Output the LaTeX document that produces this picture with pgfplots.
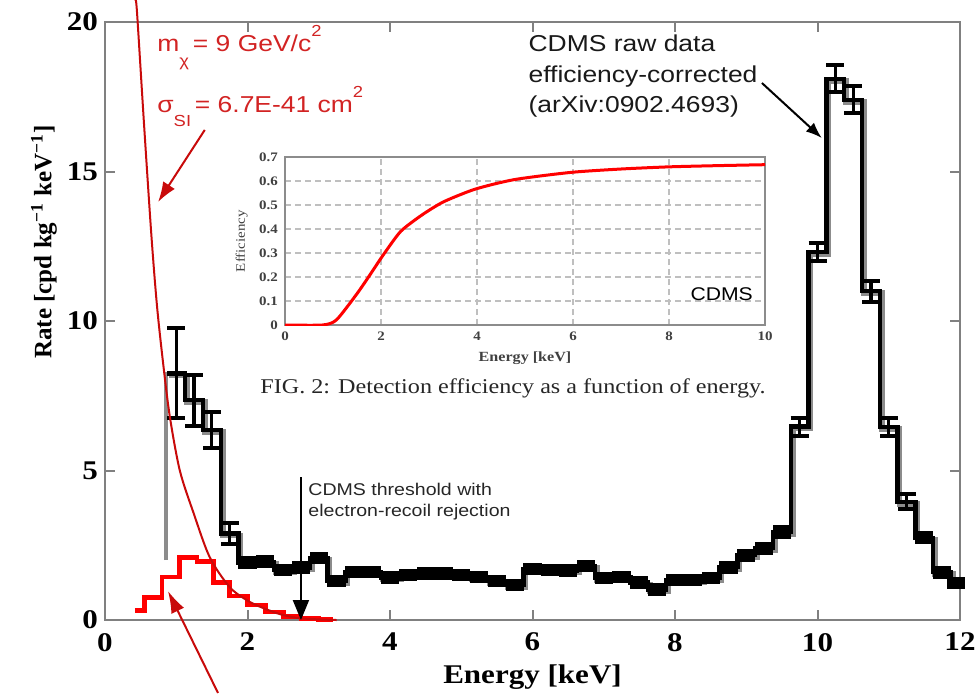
\documentclass[border=0pt]{standalone}
\usepackage{pgfplots}
\pgfplotsset{compat=1.18}
\usepackage{pgfplotstable}
\usepackage{fontspec}
\setmainfont{Liberation Serif}[FakeStretch=1.15]
\newfontfamily\ylfont{Liberation Serif}
\newfontfamily\sansf{Liberation Sans}[FakeStretch=1.15]
\usetikzlibrary{arrows.meta}
\definecolor{axgray}{RGB}{128,128,128}
\definecolor{annred}{RGB}{210,35,35}
\definecolor{curvered}{RGB}{200,10,10}
\definecolor{histred}{RGB}{255,0,0}
\definecolor{shadow}{RGB}{140,140,140}

\pgfplotstableread{
xl xc y e
0.875 1.0 8.25 1.5
1.125 1.25 7.35 0.85
1.375 1.5 6.35 0.6
1.625 1.75 2.9 0.35
1.875 2.0 1.92 0.22
2.125 2.25 1.95 0.22
2.375 2.5 1.67 0.21
2.625 2.75 1.75 0.21
2.875 3.0 2.07 0.21
3.125 3.25 1.3 0.21
3.375 3.5 1.6 0.21
3.625 3.75 1.6 0.21
3.875 4.0 1.42 0.21
4.125 4.25 1.5 0.21
4.375 4.5 1.55 0.21
4.625 4.75 1.55 0.21
4.875 5.0 1.5 0.21
5.125 5.25 1.44 0.21
5.375 5.5 1.3 0.21
5.625 5.75 1.17 0.21
5.875 6.0 1.7 0.21
6.125 6.25 1.68 0.21
6.375 6.5 1.65 0.21
6.625 6.75 1.8 0.21
6.875 7.0 1.4 0.21
7.125 7.25 1.44 0.21
7.375 7.5 1.25 0.21
7.625 7.75 1.02 0.21
7.875 8.0 1.34 0.21
8.125 8.25 1.34 0.21
8.375 8.5 1.4 0.21
8.625 8.75 1.77 0.22
8.875 9.0 2.17 0.22
9.125 9.25 2.4 0.22
9.375 9.5 2.94 0.24
9.625 9.75 6.47 0.3
9.875 10.0 12.3 0.3
10.125 10.25 18.1 0.45
10.375 10.5 17.4 0.45
10.625 10.75 11.0 0.35
10.875 11.0 6.45 0.3
11.125 11.25 3.95 0.25
11.375 11.5 2.75 0.22
11.625 11.75 1.6 0.22
11.875 11.94 1.25 0.2
12.0 12.0 1.25 0
}\cdms

\begin{document}
\begin{tikzpicture}
\begin{axis}[
  scale only axis, width=427.5pt, height=299pt,
  xmin=0, xmax=12, ymin=0, ymax=20,
  xtick={0,2,4,6,8,10,12}, ytick={0,5,10,15,20},
  axis line style={axgray, line width=1.4pt},
  tick style={axgray, line width=1pt},
  major tick length=5pt,
  tick align=inside,
  clip=false,
  /pgf/number format/assume math mode=true,
  tick label style={font=\bfseries\fontsize{13.5}{13.5}\selectfont},
  xticklabel style={yshift=-3pt},
  xlabel={Energy [keV]},
  xlabel style={font=\bfseries\fontsize{13.5}{13.5}\selectfont, at={(axis description cs:0.5,-0.107)}, anchor=base},
  ylabel={Rate [cpd kg\textsuperscript{−1} keV\textsuperscript{−1}]},
  ylabel style={font=\ylfont\bfseries\fontsize{12.5}{12.5}\selectfont, at={(axis description cs:-0.0713,0.632)}, anchor=center},
]
% shadow of CDMS histogram
\addplot[const plot, draw=shadow, line width=2.8pt, xshift=1pt, yshift=-1pt, mark=none] table[x=xl,y=y]{\cdms};
\addplot[shadow, line width=2pt, mark=none] coordinates {(0.85,2.0) (0.85,8.3)};
% CDMS histogram
\addplot[const plot, black, line width=2.2pt, mark=none] table[x=xl,y=y]{\cdms};
% thin error bars with caps (large errors)
\addplot[draw=none, mark=none,
  skip coords between index={4}{35}, skip coords between index={42}{46},
  error bars/.cd, y dir=both, y explicit,
  error bar style={line width=1.6pt, black, solid},
  error mark options={rotate=90, mark size=4.5pt, line width=2pt, black, solid}]
  table[x=xc, y=y, y error=e]{\cdms};
% error boxes (small errors)
\addplot[draw=none, mark=none,
  skip coords between index={0}{4}, skip coords between index={35}{42}, skip coords between index={45}{46},
  error bars/.cd, y dir=both, y explicit, error mark=none,
  error bar style={line width=9.1pt, black, solid, line cap=butt}]
  table[x=xc, y=y, y error=e]{\cdms};
% red histogram
\addplot[const plot, histred, line width=2.4pt, mark=none] coordinates {
(0.42,0.33) (0.56,0.75) (0.8,1.44) (1.05,2.1) (1.29,1.97) (1.52,1.25) (1.75,0.8)
(2.0,0.5) (2.25,0.27) (2.5,0.12) (2.75,0.04) (3.0,0.01) (3.2,0.01)};
% red curve
\addplot[curvered, line width=1pt, smooth, mark=none] coordinates {
(0.43,20.7) (0.45,20.3) (0.55,16.5) (0.65,12.9) (0.73,10.5) (0.82,8.5) (0.91,6.8)
(1.05,5.0) (1.24,3.6) (1.47,2.1) (1.75,1.1) (2.0,0.65) (2.2,0.42) (2.45,0.2)
(2.7,0.07) (3.0,0.02) (3.25,0.0)};

% annotations
\node[anchor=base west, text=annred, font=\sansf\fontsize{11.5}{11.5}\selectfont, inner sep=0pt]
  at (axis cs:0.73,19.0) {m\raisebox{-7.5pt}{\fontsize{8}{8}\selectfont χ}\,= 9 GeV/c\raisebox{7.5pt}{\fontsize{8}{8}\selectfont 2}};
\node[anchor=base west, text=annred, font=\sansf\fontsize{11.5}{11.5}\selectfont, inner sep=0pt]
  at (axis cs:0.73,16.99) {σ\raisebox{-7pt}{\fontsize{8}{8}\selectfont SI}\,= 6.7E-41 cm\raisebox{7.5pt}{\fontsize{8}{8}\selectfont 2}};
\draw[curvered, line width=1pt, -{Latex[length=10pt,width=7pt]}] (axis cs:1.40,16.39) -- (axis cs:0.745,13.98);
\draw[curvered, line width=1pt, -{Latex[length=11pt,width=7pt]}] (axis cs:1.586,-2.44) -- (axis cs:0.884,0.97);

\node[anchor=base west, text=black!90, font=\sansf\fontsize{11.5}{11.5}\selectfont, inner sep=0pt]
  at (axis cs:5.94,19.03) {CDMS raw data};
\node[anchor=base west, text=black!90, font=\sansf\fontsize{11.5}{11.5}\selectfont, inner sep=0pt]
  at (axis cs:5.94,17.99) {efficiency-corrected};
\node[anchor=base west, text=black!90, font=\sansf\fontsize{11.5}{11.5}\selectfont, inner sep=0pt]
  at (axis cs:5.94,16.96) {(arXiv:0902.4693)};
\draw[black, line width=1pt, -{Latex[length=8pt,width=6pt]}] (axis cs:9.22,17.96) -- (axis cs:10.06,16.12);

\draw[black, line width=1pt, -{Triangle[length=10pt,width=8pt]}] (axis cs:2.75,4.78) -- (axis cs:2.75,0);
\node[anchor=base west, text=black!85, font=\sansf\fontsize{8.5}{8.5}\selectfont, inner sep=0pt]
  at (axis cs:2.85,4.18) {CDMS threshold with};
\node[anchor=base west, text=black!85, font=\sansf\fontsize{8.5}{8.5}\selectfont, inner sep=0pt]
  at (axis cs:2.85,3.46) {electron-recoil rejection};

\node[anchor=base west, text=black!85, font=\fontsize{10.5}{10.5}\selectfont, inner sep=0pt]
  at (axis cs:2.175,7.56) {FIG. 2: Detection efficiency as a function of energy.};
\end{axis}

\begin{axis}[
  at={(90pt,147.5pt)}, anchor=south west,
  scale only axis, width=240pt, height=84pt,
  xmin=0, xmax=10, ymin=0, ymax=0.7,
  xtick={0,2,4,6,8,10}, ytick={0,0.1,0.2,0.3,0.4,0.5,0.6,0.7},
  grid=major, grid style={densely dashed, black!25, line width=0.7pt},
  axis line style={black!45, line width=1pt},
  major tick length=0pt,
  /pgf/number format/assume math mode=true,
  tick label style={font=\bfseries\fontsize{6.5}{6.5}\selectfont, text=black!75},
  xlabel={Energy [keV]},
  xlabel style={font=\bfseries\fontsize{7}{7}\selectfont, at={(axis description cs:0.5,-0.2)}, anchor=center, text=black!75},
  ylabel={Efficiency},
  ylabel style={font=\fontsize{6.5}{6.5}\selectfont, at={(axis description cs:-0.09,0.5)}, anchor=center, text=black!75},
]
\addplot[red, line width=1.5pt, smooth, tension=0.4, mark=none] coordinates {
(0,0) (0.78,0) (1.07,0.021) (1.48,0.125) (1.74,0.2) (2.04,0.29) (2.41,0.39)
(2.85,0.458) (3.3,0.513) (3.96,0.566) (4.78,0.606) (5.96,0.636) (7.0,0.65)
(8.0,0.659) (9.0,0.664) (10,0.668)};
\node[anchor=base west, font=\sansf\fontsize{9.2}{9.2}\selectfont, inner sep=0pt] at (axis cs:8.44,0.104) {CDMS};
\end{axis}
\pgfresetboundingbox
\path[use as bounding box] (-52.5pt,-36.5pt) rectangle (436.5pt,310pt);
\end{tikzpicture}
\end{document}
